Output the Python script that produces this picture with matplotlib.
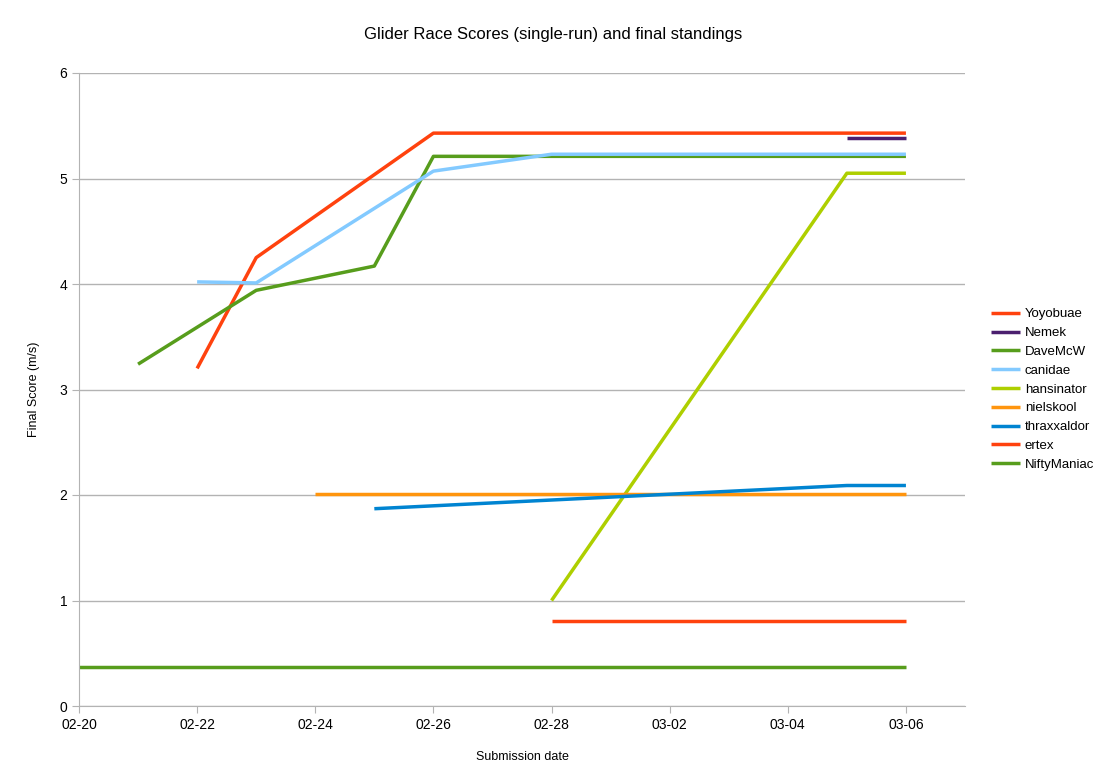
import pandas as pd
from matplotlib import pyplot as plt

plt.rcParams["font.family"] = ["Liberation Sans", "DejaVu Sans"]

YEAR = "2015-"

series_names = ["Yoyobuae", "Nemek", "DaveMcW", "canidae", "hansinator",
                "nielskool", "thraxxaldor", "ertex", "NiftyManiac"]
series_colors = ["#ff420e", "#4b1f6f", "#579d1c", "#83caff", "#aecf00",
                 "#ff950e", "#0084d1", "#ff420e", "#579d1c"]

yoyobuae_dates = ["02-22", "02-23", "02-26", "03-06"]
yoyobuae_scores = [3.20, 4.25, 5.43, 5.43]

nemek_dates = ["03-05", "03-06"]
nemek_scores = [5.38, 5.38]

davemcw_dates = ["02-21", "02-23", "02-25", "02-26", "03-06"]
davemcw_scores = [3.24, 3.94, 4.17, 5.21, 5.21]

canidae_dates = ["02-22", "02-23", "02-26", "02-28", "03-06"]
canidae_scores = [4.02, 4.01, 5.07, 5.23, 5.23]

hansinator_dates = ["02-28", "03-05", "03-06"]
hansinator_scores = [1.00, 5.05, 5.05]

nielskool_dates = ["02-24", "03-06"]
nielskool_scores = [2.01, 2.01]

thraxxaldor_dates = ["02-25", "03-05", "03-06"]
thraxxaldor_scores = [1.87, 2.09, 2.09]

ertex_dates = ["02-28", "03-06"]
ertex_scores = [0.81, 0.81]

niftymaniac_dates = ["02-20", "03-06"]
niftymaniac_scores = [0.37, 0.37]

all_dates = [yoyobuae_dates, nemek_dates, davemcw_dates, canidae_dates, hansinator_dates,
             nielskool_dates, thraxxaldor_dates, ertex_dates, niftymaniac_dates]
all_scores = [yoyobuae_scores, nemek_scores, davemcw_scores, canidae_scores, hansinator_scores,
              nielskool_scores, thraxxaldor_scores, ertex_scores, niftymaniac_scores]

tick_dates = pd.date_range(YEAR + "02-20", YEAR + "03-06", freq="2D")

fig = plt.figure(figsize=(11.07, 7.83), dpi=100)
ax = fig.add_axes([79 / 1107, 1 - 706 / 783, (965 - 79) / 1107, (706 - 73) / 783])

for name, color, dates, scores in zip(series_names, series_colors, all_dates, all_scores):
    x = pd.to_datetime([YEAR + d for d in dates])
    ax.plot(x, scores, color=color, linewidth=2.5, label=name, solid_capstyle="butt")

ax.set_xlim(pd.Timestamp(YEAR + "02-20"), pd.Timestamp(YEAR + "03-07"))
ax.set_ylim(0, 6)
ax.set_xticks(tick_dates)
ax.set_xticklabels([d.strftime("%m-%d") for d in tick_dates])
ax.set_yticks(range(7))

ax.grid(axis="y", color="#b3b3b3", linewidth=1)
ax.set_axisbelow(True)
for side in ["top", "right"]:
    ax.spines[side].set_visible(False)
for side in ["left", "bottom"]:
    ax.spines[side].set_color("#b3b3b3")
ax.tick_params(axis="both", colors="#b3b3b3", labelcolor="black", labelsize=10, length=5)

ax.set_xlabel("Submission date", fontsize=9, labelpad=14)
ax.set_ylabel("Final Score (m/s)", fontsize=9, labelpad=14)
fig.suptitle("Glider Race Scores (single-run) and final standings", fontsize=12, y=1 - 35 / 783, va="center")

ax.legend(loc="center left", bbox_to_anchor=(1.016, 0.5), frameon=False, fontsize=9.5,
          handlelength=2.2, handletextpad=0.35, labelspacing=0.5)

fig.savefig("out.png", dpi=100)
